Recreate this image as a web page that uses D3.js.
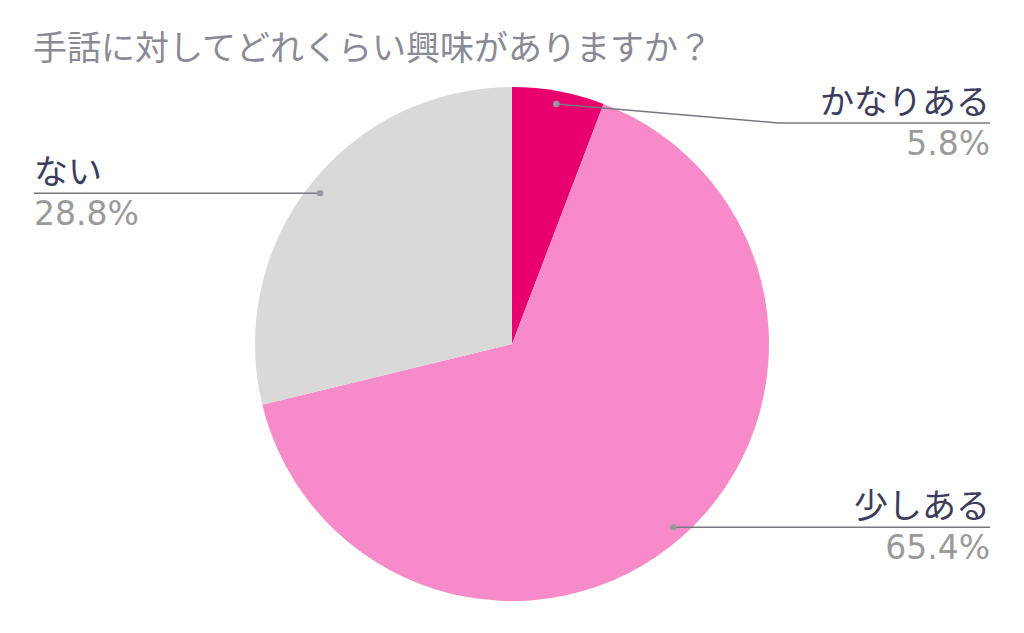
<!DOCTYPE html>
<html>
<head>
<meta charset="utf-8">
<script src="https://cdn.jsdelivr.net/npm/d3@7"></script>
<style>
  html, body { margin: 0; padding: 0; background: #fff; }
  svg { display: block; }
</style>
</head>
<body>
<div id="chart"></div>
<script>
const title = "手話に対してどれくらい興味がありますか？";
const categories = ["かなりある", "少しある", "ない"];
const values = [5.8, 65.4, 28.8];
const colors = ["#E8006F", "#F78BC9", "#D9D9D9"];

const width = 1024, height = 633;
const cx = 512, cy = 344, radius = 257;
const jpFont = "'Noto Sans CJK JP', 'Noto Sans', sans-serif";
const numFont = "'DejaVu Sans', Verdana, sans-serif";

const svg = d3.select("#chart").append("svg")
    .attr("width", width)
    .attr("height", height);

svg.append("text")
    .attr("x", 33)
    .attr("y", 60)
    .style("font-family", jpFont)
    .style("font-size", "34px")
    .style("fill", "#8a8a96")
    .text(title);

const data = categories.map((c, i) => ({name: c, value: values[i], color: colors[i]}));

const pie = d3.pie().sort(null).value(d => d.value);
const arc = d3.arc().innerRadius(0).outerRadius(radius);
const arcs = pie(data);

const g = svg.append("g").attr("transform", `translate(${cx},${cy})`);
g.selectAll("path")
    .data(arcs)
    .join("path")
    .attr("d", arc)
    .attr("fill", d => d.data.color);

// leader lines + labels
const dotR = radius * 0.95;
const rightX = 990, leftX = 34, elbowX = 778, minLineY = 123;

arcs.forEach(a => {
    const mid = (a.startAngle + a.endAngle) / 2;
    const dx = cx + Math.sin(mid) * dotR;
    const dy = cy - Math.cos(mid) * dotR;
    const right = Math.sin(mid) > 0;
    const lineY = Math.max(dy, minLineY);
    let pts;
    if(right){
        pts = [[dx, dy], [Math.max(elbowX, dx), lineY], [rightX, lineY]];
    } else {
        pts = [[dx, dy], [leftX, lineY]];
    }
    svg.append("path")
        .attr("d", d3.line()(pts))
        .attr("fill", "none")
        .attr("stroke", "#77777f")
        .attr("stroke-width", 1.5);
    svg.append("circle")
        .attr("cx", dx)
        .attr("cy", dy)
        .attr("r", 3.2)
        .attr("fill", "#9a9aa2");

    const tx = right ? rightX : leftX;
    const anchor = right ? "end" : "start";
    svg.append("text")
        .attr("x", tx)
        .attr("y", lineY - 9)
        .attr("text-anchor", anchor)
        .style("font-family", jpFont)
        .style("font-size", "34px")
        .style("fill", "#3c3c5c")
        .text(a.data.name);
    svg.append("text")
        .attr("x", tx)
        .attr("y", lineY + 32)
        .attr("text-anchor", anchor)
        .style("font-family", numFont)
        .style("font-size", "33px")
        .style("fill", "#9a9a9a")
        .text(a.data.value.toFixed(1) + "%");
});
</script>
</body>
</html>
